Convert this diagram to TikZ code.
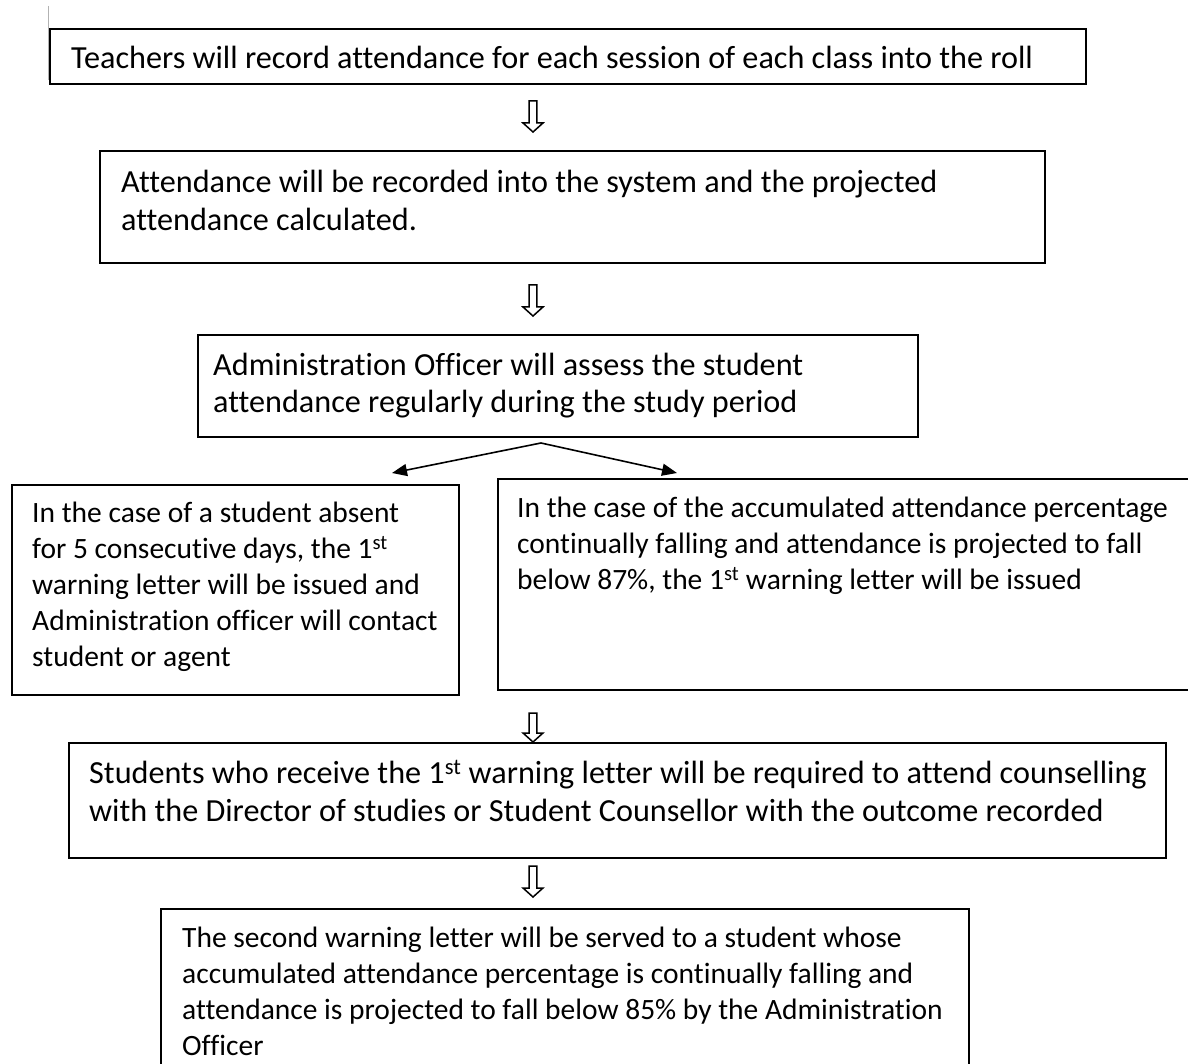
\documentclass[tikz,border=0pt]{standalone}
\usepackage{fontspec}
\setmainfont{Carlito}[Ligatures=NoCommon]
\usetikzlibrary{arrows.meta}
\tikzset{
  box/.style={draw=black, line width=1.8pt, inner sep=0pt, anchor=north west},
  txt/.style={inner sep=0pt, anchor=north west, align=left},
  fsmall/.style={font=\fontsize{29.5}{36}\selectfont},
  fmid/.style={font=\fontsize{32.2}{37}\selectfont},
  fbig/.style={font=\fontsize{32.2}{38}\selectfont},
  branch/.style={line width=1.6pt, -{Triangle[length=15pt,width=12pt]}},
  hollow/.style={draw=black, line width=1.5pt, line join=miter, fill=white}
}
\newcommand{\hollowarrow}[3]{%
  \draw[hollow] (#1-3.8,#2) -- (#1+3.8,#2) -- (#1+3.8,#3-9) -- (#1+10,#3-9) -- (#1,#3) -- (#1-10,#3-9) -- (#1-3.8,#3-9) -- cycle;}
\begin{document}
\begin{tikzpicture}[x=1pt,y=-1pt]
\useasboundingbox (0,0) rectangle (1188,1064);
% stray cursor line
\draw[gray!60, line width=0.8pt] (48,6) -- (48,80);
% boxes
\node[box, minimum width=1036pt, minimum height=55pt] (b1) at (49,28) {};
\node[txt, fbig] (t1) at (71,41.4) {\strut Teachers will record attendance for each session of each class into the roll};

\node[box, minimum width=945pt, minimum height=112pt] (b2) at (99,150) {};
\node[txt, fbig] (t2) at (121,165.4) {\strut Attendance will be recorded into the system and the projected\\attendance calculated.};

\node[box, minimum width=720pt, minimum height=102pt] (b3) at (197,334) {};
\node[txt, fmid] (t3) at (213,349.1) {\strut Administration Officer will assess the student\\attendance regularly during the study period};

\node[box, minimum width=447pt, minimum height=210pt] (b4) at (11,484) {};
\node[txt, fsmall] (t4) at (32,496.8) {\strut In the case of a student absent\\for 5 consecutive days, the 1\textsuperscript{st}\\warning letter will be issued and\\Administration officer will contact\\student or agent};

\node[box, minimum width=720pt, minimum height=211pt] (b5) at (497,478) {};
\node[txt, fsmall] (t5) at (517,491.8) {\strut In the case of the accumulated attendance percentage\\continually falling and attendance is projected to fall\\below 87\%, the 1\textsuperscript{st} warning letter will be issued};

\node[box, minimum width=1097pt, minimum height=115pt] (b6) at (68,742) {};
\node[txt, fbig] (t6) at (89,756.4) {\strut Students who receive the 1\textsuperscript{st} warning letter will be required to attend counselling\\with the Director of studies or Student Counsellor with the outcome recorded};

\node[box, minimum width=808pt, minimum height=156pt] (b7) at (160,908) {};
\node[txt, fsmall] (t7) at (182,921.8) {\strut The second warning letter will be served to a student whose\\accumulated attendance percentage is continually falling and\\attendance is projected to fall below 85\% by the Administration\\Officer};

% hollow down arrows
\hollowarrow{533}{101}{132}
\hollowarrow{533}{285}{316}
\hollowarrow{533}{713}{742}
\hollowarrow{533}{866}{897}

% branch arrows
\coordinate (split) at (541,443);
\coordinate (tipL) at (392,473);
\coordinate (tipR) at (677,473);
\draw[branch] (split) -- (tipL);
\draw[branch] (split) -- (tipR);
\end{tikzpicture}
\end{document}
